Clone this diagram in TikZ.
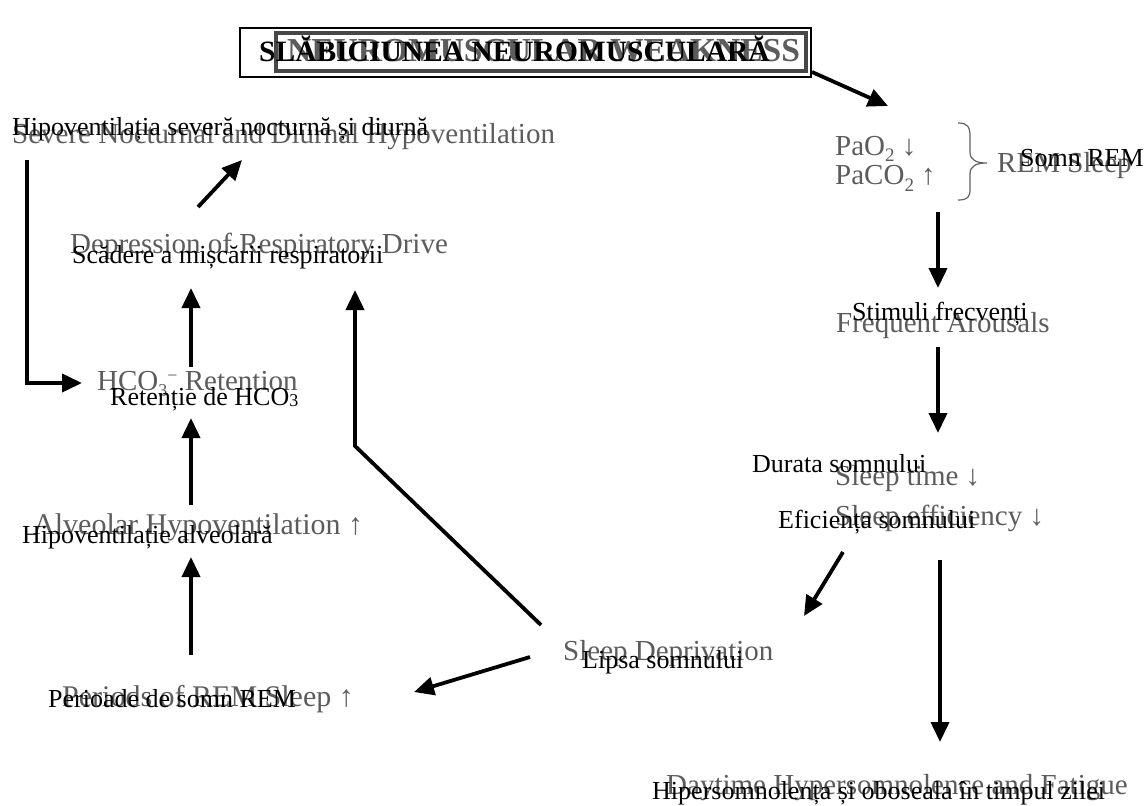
\documentclass[tikz,border=0pt]{standalone}
\usepackage{fontspec}
\setmainfont{Liberation Serif}
\usetikzlibrary{arrows.meta}
\newcommand\gsz[1]{\fontsize{#1}{#1}\selectfont}
\tikzset{
  en/.style={anchor=base west, inner sep=0pt, text=black!64},
  ro/.style={anchor=base west, inner sep=0pt, text=black},
  arr/.style={line width=3.8pt, -{Triangle[length=20pt,width=18pt]}}
}
\begin{document}
\begin{tikzpicture}[x=1pt,y=-1pt]
\useasboundingbox (0,0) rectangle (1147,805);
\fill[white] (0,0) rectangle (1147,805);

% ---------- title ----------
\node[draw, line width=2pt, minimum width=571pt, minimum height=49pt, inner sep=0pt] (title) at (525.5,52.5) {};
\node[draw=black!72, line width=3.4pt, minimum width=530pt, minimum height=38pt, inner sep=0pt] (titlein) at (541,52) {};
\node[en, font=\bfseries\gsz{33.5}] (tEn) at (287,62) {NEUROMUSCULAR WEAKNESS};
\node[ro, font=\bfseries\gsz{29.5}] (tRo) at (259,62) {SLĂBICIUNEA NEUROMUSCULARĂ};

% ---------- English (grey) labels ----------
\node[en, font=\gsz{29}] (sevEn) at (12,144) {Severe Nocturnal and Diurnal Hypoventilation};
\node[en, font=\gsz{29}] (depEn) at (70,253) {Depression of Respiratory Drive};
\node[en, font=\gsz{29}] (hcoEn) at (97,390) {HCO\raisebox{-6pt}{\gsz{18}3}\raisebox{9pt}{\gsz{18}−} Retention};
\node[en, font=\gsz{30}] (alvEn) at (33,534) {Alveolar Hypoventilation ↑};
\node[en, font=\gsz{30}] (perEn) at (62,706) {Periods of REM Sleep ↑};
\node[en, font=\gsz{29}] (depvEn) at (563,660) {Sleep Deprivation};
\node[en, font=\gsz{29}] (pao) at (835,156) {PaO\raisebox{-6pt}{\gsz{19}2} ↓};
\node[en, font=\gsz{29}] (paco) at (835,185) {PaCO\raisebox{-6pt}{\gsz{19}2} ↑};
\node[en, font=\gsz{29}] (remEn) at (997,172) {REM Sleep};
\node[en, font=\gsz{29}] (freqEn) at (836,332) {Frequent Arousals};
\node[en, font=\gsz{29}] (stEn) at (835,485) {Sleep time ↓};
\node[en, font=\gsz{29}] (seEn) at (835,525) {Sleep efficiency ↓};
\node[en, font=\gsz{29}] (dayEn) at (666,794) {Daytime Hypersomnolence and Fatigue};

% brace beside PaO2 / PaCO2
\draw[black!62, line width=1.2pt] (958,123) .. controls (968,123) and (970,127) .. (970,137)
  -- (970,152) .. controls (970,160) and (976,163) .. (987,163)
  .. controls (976,163) and (970,166) .. (970,174)
  -- (970,189) .. controls (970,197) and (968,200) .. (958,200);

% ---------- Romanian (black) labels ----------
\node[ro, font=\gsz{26}] (sevRo) at (12,136) {Hipoventilația severă nocturnă și diurnă};
\node[ro, font=\gsz{26}] (depRo) at (72,263) {Scădere a mișcării respiratorii};
\node[ro, font=\gsz{26}] (hcoRo) at (110,405) {Retenție de HCO\raisebox{-1pt}{\gsz{18}3}};
\node[ro, font=\gsz{26}] (alvRo) at (22,543) {Hipoventilație alveolară};
\node[ro, font=\gsz{26}] (perRo) at (48,707) {Perioade de somn REM};
\node[ro, font=\gsz{26}] (depvRo) at (582,668) {Lipsa somnului};
\node[ro, font=\gsz{26}] (remRo) at (1020,167) {Somn REM};
\node[ro, font=\gsz{26}] (freqRo) at (852,320) {Stimuli frecvenți};
\node[ro, font=\gsz{26}] (stRo) at (752,472) {Durata somnului};
\node[ro, font=\gsz{26}] (seRo) at (778,528) {Eficiența somnului};
\node[ro, font=\gsz{26}] (dayRo) at (652,799) {Hipersomnolența și oboseala în timpul zilei};

% ---------- connector end points ----------
\coordinate (a1s) at (812,72);   \coordinate (a1e) at (888,106);
\coordinate (a2s) at (198,207);  \coordinate (a2e) at (242,160);
\coordinate (a3s) at (191,367);  \coordinate (a3e) at (191,288);
\coordinate (a4s) at (191,505);  \coordinate (a4e) at (191,418);
\coordinate (a5s) at (191,655);  \coordinate (a5e) at (191,557);
\coordinate (a6s) at (27,160);   \coordinate (a6c) at (27,383);  \coordinate (a6e) at (82,383);
\coordinate (a7s) at (541,625);  \coordinate (a7c) at (355,446); \coordinate (a7e) at (355,290);
\coordinate (a8s) at (530,657);  \coordinate (a8e) at (414,692);
\coordinate (a9s) at (843,552);  \coordinate (a9e) at (804,616);
\coordinate (a10s) at (938,212); \coordinate (a10e) at (938,288);
\coordinate (a11s) at (938,347); \coordinate (a11e) at (938,433);
\coordinate (a12s) at (940,560); \coordinate (a12e) at (940,742);

% ---------- connectors ----------
\draw[arr] (a1s) -- (a1e);
\draw[arr] (a2s) -- (a2e);
\draw[arr] (a3s) -- (a3e);
\draw[arr] (a4s) -- (a4e);
\draw[arr] (a5s) -- (a5e);
\draw[arr] (a6s) -- (a6c) -- (a6e);
\draw[arr] (a7s) -- (a7c) -- (a7e);
\draw[arr] (a8s) -- (a8e);
\draw[arr] (a9s) -- (a9e);
\draw[arr] (a10s) -- (a10e);
\draw[arr] (a11s) -- (a11e);
\draw[arr] (a12s) -- (a12e);
\end{tikzpicture}
\end{document}
